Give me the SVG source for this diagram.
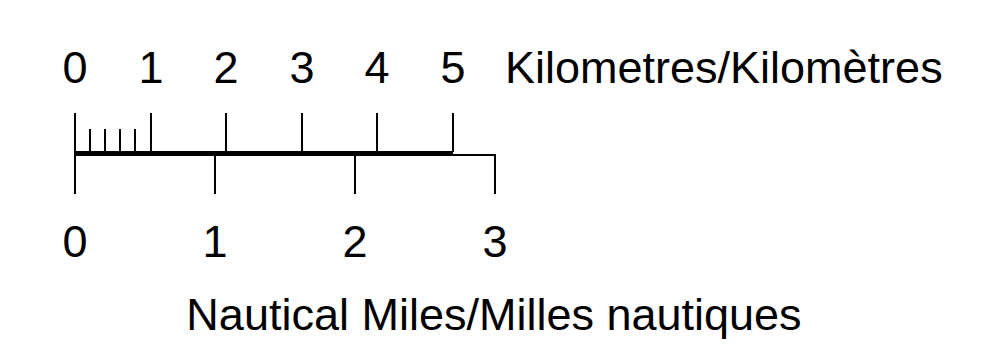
<svg xmlns="http://www.w3.org/2000/svg" width="989" height="352" viewBox="0 0 989 352">
<style>
text{font-family:"Liberation Sans",Arial,sans-serif;font-size:45px;fill:#000}
.m{text-anchor:middle}
.t{stroke:#000;stroke-width:2;fill:none}
</style>
<rect width="989" height="352" fill="#fff"/>
<g id="connectors">
<line class="t" x1="75" y1="152.5" x2="453" y2="152.5" style="stroke-width:3"/>
<polyline class="t" points="75,155 495,155 495,194"/>
<line class="t" x1="75" y1="113" x2="75" y2="194"/>
<line class="t" x1="90" y1="129" x2="90" y2="152"/>
<line class="t" x1="105" y1="129" x2="105" y2="152"/>
<line class="t" x1="120" y1="129" x2="120" y2="152"/>
<line class="t" x1="135" y1="129" x2="135" y2="152"/>
<line class="t" x1="151" y1="113" x2="151" y2="152"/>
<line class="t" x1="226" y1="113" x2="226" y2="152"/>
<line class="t" x1="302" y1="113" x2="302" y2="152"/>
<line class="t" x1="377" y1="113" x2="377" y2="152"/>
<line class="t" x1="453" y1="113" x2="453" y2="152"/>
<line class="t" x1="215" y1="155" x2="215" y2="194"/>
<line class="t" x1="355" y1="155" x2="355" y2="194"/>
</g>
<g id="km-labels">
<text class="m" x="75" y="83">0</text>
<text class="m" x="151" y="83">1</text>
<text class="m" x="226" y="83">2</text>
<text class="m" x="302" y="83">3</text>
<text class="m" x="377" y="83">4</text>
<text class="m" x="453" y="83">5</text>
<text x="505" y="83">Kilometres/Kilomètres</text>
</g>
<g id="nm-labels">
<text class="m" x="75" y="257">0</text>
<text class="m" x="215" y="257">1</text>
<text class="m" x="355" y="257">2</text>
<text class="m" x="495" y="257">3</text>
<text class="m" x="494" y="330">Nautical Miles/Milles nautiques</text>
</g>
</svg>
